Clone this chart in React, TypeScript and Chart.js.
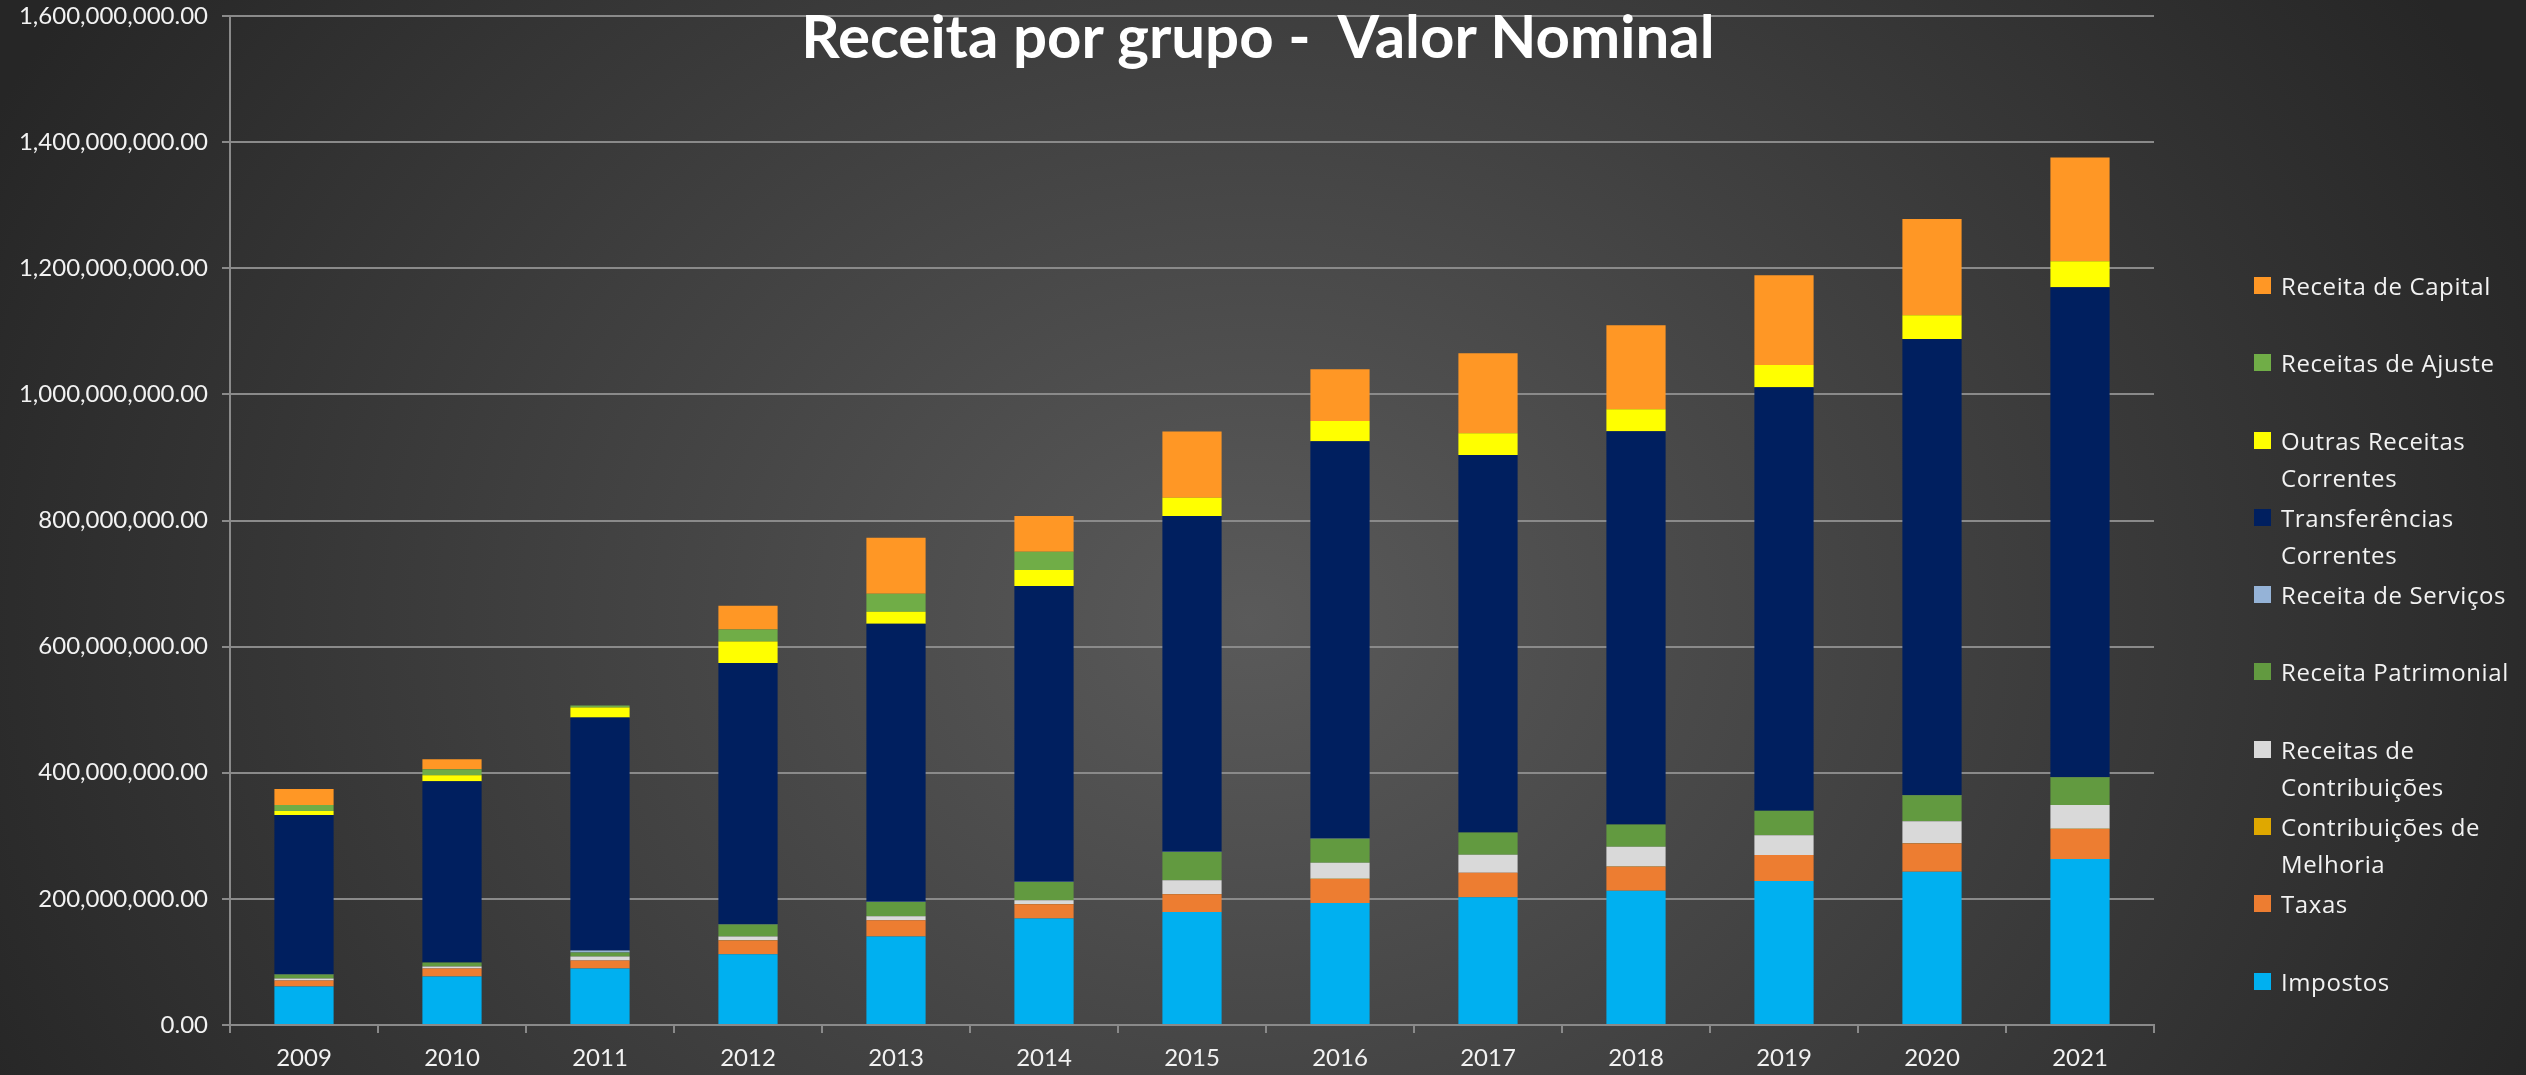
import React, { useEffect, useRef } from "react";
import { Chart, registerables } from "chart.js";

Chart.register(...registerables);

// Values in millions (R$)
const years = ["2009", "2010", "2011", "2012", "2013", "2014", "2015", "2016", "2017", "2018", "2019", "2020", "2021"];
const impostos = [61, 76.8, 89.5, 112, 140.5, 168.8, 179, 193.6, 202.5, 213, 228.2, 242.9, 263.1];
const taxas = [9.5, 12.7, 12.6, 22, 25.5, 22.7, 28.4, 38.1, 38.9, 38.1, 41.3, 45.1, 47.9];
const contribMelhoria = [0.2, 0.2, 0.2, 0.2, 0.2, 0.2, 0.2, 0.2, 0.2, 0.2, 0.2, 0.2, 0.2];
const receitasContribuicoes = [3.2, 3.1, 6.3, 6.3, 6.2, 6.2, 22.1, 25.4, 28.4, 31.4, 31.3, 34.9, 37.7];
const receitaPatrimonial = [6.3, 6.3, 6.3, 18.9, 22.7, 28.9, 44.7, 38.1, 35.1, 35.1, 38.7, 41.4, 44.1];
const receitaServicos = [0.2, 0.2, 3.2, 0.2, 0.2, 0.2, 0.2, 0.2, 0.2, 0.2, 0.2, 0.2, 0.2];
const transferencias = [252.6, 287.4, 369.5, 414.3, 440.8, 469.2, 532.6, 630.1, 598.7, 623.4, 671.5, 723.1, 776.5];
const outrasReceitas = [6.4, 9.5, 15.8, 34.2, 19.3, 25.4, 28.9, 32.1, 34.4, 35.1, 35, 37.7, 41.4];
const receitasAjuste = [9.4, 9.5, 3.1, 18.9, 28.3, 28.9, 0, 0, 0, 0, 0, 0, 0];
const receitaCapital = [25.3, 15.7, 0, 37.9, 88.9, 56.7, 105, 82.2, 127, 133, 142.6, 152.7, 164.6];

const yTicksMax = 1600;
const yTicksStep = 200;
const unit = 1e6;

const title = "Receita por grupo -  Valor Nominal";

const series = [
  { label: "Impostos", lines: ["Impostos"], data: impostos, color: "#00B0F0" },
  { label: "Taxas", lines: ["Taxas"], data: taxas, color: "#ED7D31" },
  { label: "Contribuições de Melhoria", lines: ["Contribuições de", "Melhoria"], data: contribMelhoria, color: "#DFA800" },
  { label: "Receitas de Contribuições", lines: ["Receitas de", "Contribuições"], data: receitasContribuicoes, color: "#D9D9D9" },
  { label: "Receita Patrimonial", lines: ["Receita Patrimonial"], data: receitaPatrimonial, color: "#629A40" },
  { label: "Receita de Serviços", lines: ["Receita de Serviços"], data: receitaServicos, color: "#95B3D7" },
  { label: "Transferências Correntes", lines: ["Transferências", "Correntes"], data: transferencias, color: "#001F5F" },
  { label: "Outras Receitas Correntes", lines: ["Outras Receitas", "Correntes"], data: outrasReceitas, color: "#FFFF00" },
  { label: "Receitas de Ajuste", lines: ["Receitas de Ajuste"], data: receitasAjuste, color: "#70AD47" },
  { label: "Receita de Capital", lines: ["Receita de Capital"], data: receitaCapital, color: "#FF9725" },
];

const GRID = "#8a8a8a";
const TEXT = "#f2f2f2";

export default function App() {
  const ref = useRef<HTMLCanvasElement>(null);

  useEffect(() => {
    const canvas = ref.current;
    if (!canvas) return;
    const chart = new Chart(canvas, {
      type: "bar",
      data: {
        labels: years,
        datasets: series.map((s) => ({
          label: s.label,
          data: s.data,
          backgroundColor: s.color,
          borderWidth: 0,
          barPercentage: 0.4,
          categoryPercentage: 1,
        })),
      },
      options: {
        animation: false,
        responsive: false,
        maintainAspectRatio: false,
        layout: { padding: { top: 16, right: 372, bottom: 0, left: 0 } },
        plugins: {
          legend: { display: false },
          title: { display: false },
          tooltip: { enabled: false },
        },
        scales: {
          x: {
            stacked: true,
            grid: {
              display: true,
              drawOnChartArea: false,
              drawTicks: true,
              tickLength: 8,
              color: GRID,
              lineWidth: 2,
              offset: true,
            },
            border: { display: true, color: GRID, width: 2 },
            ticks: {
              color: TEXT,
              font: { family: "Lato", size: 24 },
              padding: 11,
              maxRotation: 0,
            },
            afterFit: (s: any) => {
              s.height = 50;
              s.paddingLeft = 0;
              s.paddingRight = 0;
            },
          },
          y: {
            stacked: true,
            min: 0,
            max: yTicksMax,
            ticks: {
              stepSize: yTicksStep,
              color: TEXT,
              font: { family: "Lato", size: 24 },
              padding: 14,
              callback: (v: any) =>
                (Number(v) * unit).toLocaleString("en-US", {
                  minimumFractionDigits: 2,
                  maximumFractionDigits: 2,
                }),
            },
            grid: { color: GRID, lineWidth: 2, tickLength: 8, drawTicks: true },
            border: { display: true, color: GRID, width: 2 },
            afterFit: (s: any) => {
              s.width = 230;
              s.paddingTop = 0;
              s.paddingBottom = 0;
            },
          },
        },
      },
    });
    return () => chart.destroy();
  }, []);

  const legendItems = [...series].reverse();

  return (
    <div
      style={{
        position: "absolute",
        left: 0,
        top: 0,
        width: 2526,
        height: 1075,
        overflow: "hidden",
        background:
          "radial-gradient(ellipse 1400px 1150px at 1250px 620px, #5a5a5a 0%, #262626 100%)",
      }}
    >
      <canvas
        ref={ref}
        width={2526}
        height={1075}
        style={{ position: "absolute", left: 0, top: 0, width: 2526, height: 1075, display: "block" }}
      />
      <div
        style={{
          position: "absolute",
          left: 1258,
          top: 5,
          transform: "translateX(-50%)",
          whiteSpace: "pre",
          fontFamily: "Lato, sans-serif",
          fontWeight: 700,
          fontSize: 60,
          lineHeight: "60px",
          color: "#ffffff",
        }}
      >
        {title}
      </div>
      <div style={{ position: "absolute", left: 2254, top: 267, width: 272 }}>
        {legendItems.map((s) => (
          <div key={s.label} style={{ position: "relative", height: 77.3 }}>
            <div
              style={{
                position: "absolute",
                left: 0,
                top: 10,
                width: 17,
                height: 17,
                background: s.color,
              }}
            />
            <div
              style={{
                position: "absolute",
                left: 27,
                top: 0,
                fontFamily: "'Open Sans', sans-serif",
                fontSize: 24,
                lineHeight: "37px",
                letterSpacing: "0.6px",
                color: TEXT,
                whiteSpace: "nowrap",
              }}
            >
              {s.lines.map((l, i) => (
                <div key={i}>{l}</div>
              ))}
            </div>
          </div>
        ))}
      </div>
    </div>
  );
}
